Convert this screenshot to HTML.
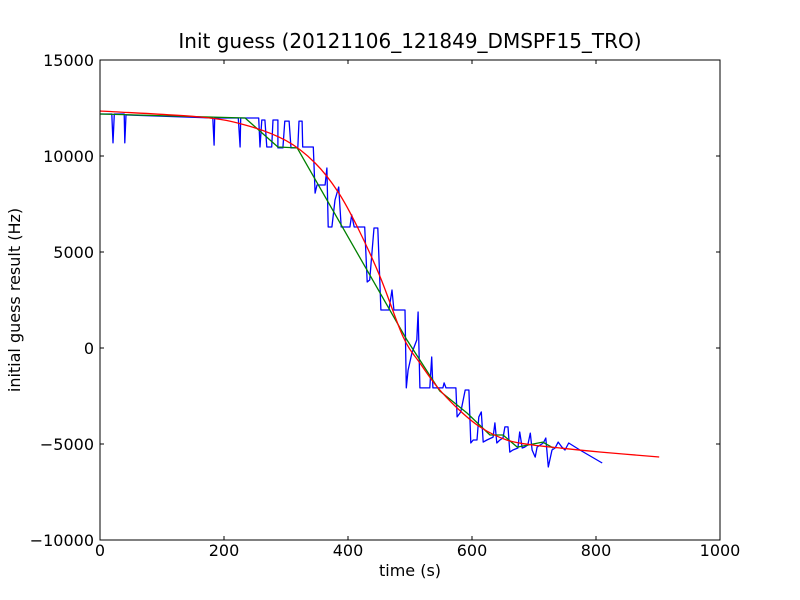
<!DOCTYPE html>
<html><head><meta charset="utf-8"><style>
body{margin:0;background:#fff;}
svg{display:block;font-family:"DejaVu Sans","Liberation Sans",sans-serif;}
</style></head><body>
<svg id="chart" width="800" height="600">
<rect x="0" y="0" width="800" height="600" fill="#fff"/>
<text x="410" y="48" font-size="20" text-anchor="middle">Init guess (20121106_121849_DMSPF15_TRO)</text>
<g id="plot"></g>
<text x="410" y="576" font-size="16" text-anchor="middle">time (s)</text>
<text transform="translate(20,300) rotate(-90)" font-size="16" text-anchor="middle">initial guess result (Hz)</text>
</svg>
<script>
const xTicks=[0,200,400,600,800,1000];
const yTicks=[15000,10000,5000,0,-5000,-10000];
const yTickLabels=["15000","10000","5000","0","\u22125000","\u221210000"];
const blueT=[2,19,21,23,39,40,42,182,184,185,223,226,227,256,258,261,266,269,277,279,287,287,295,298,305,308,319,321,326,327,344,347,350,363,366,368,374,379,385,389,403,406,410,427,431,435,442,448,453,466,471,474,492,494,497,503,511,513,516,532,535,537,553,555,558,574,576,582,589,595,598,602,608,611,615,618,624,634,637,640,645,650,653,658,661,666,674,677,681,685,690,694,697,702,705,710,715,719,723,729,734,739,745,750,756,774,810];
const blueV=[12190,12190,10680,12190,12190,10680,12140,11980,10570,11980,11980,10470,11980,11980,10470,11875,11875,10470,10470,11875,11875,10420,10420,11820,11820,10420,10420,11820,11820,10470,10470,8070,8490,8490,9375,6300,6300,7710,8385,6300,6300,6930,6300,6300,3440,3540,6250,6250,1980,1980,3020,1980,1980,-2080,-1150,-260,420,1875,-2080,-2080,-470,-2080,-2080,-1820,-2080,-2080,-3590,-3330,-2190,-2190,-4950,-4790,-4790,-3590,-3330,-4900,-4790,-4640,-3900,-4950,-4790,-4690,-4110,-4110,-5420,-5310,-5210,-4375,-5210,-5160,-5050,-4430,-5310,-5680,-5160,-5050,-4950,-4690,-6200,-5310,-5210,-4900,-5160,-5310,-4950,-5310,-5990];
const greenT=[0,234,287,318,495,548,592,629,650,673,714,731];
const greenV=[12190,11980,10470,10420,420,-2240,-3385,-4530,-4530,-5160,-4900,-5210];
const redT=[0,161,234,300,347,384,416,452,489,516,544,576,613,656,698,742,806,902];
const redV=[12344,12031,11615,10800,9635,8125,6250,3698,573,-781,-2031,-3125,-4114,-4792,-5052,-5208,-5417,-5677];
const L=100,R=720,T=60,B=540;
function sx(t){return L+(t-0)/(1000-0)*(R-L);}
function sy(v){return B-(v-(-10000))/(15000-(-10000))*(B-T);}
const NS="http://www.w3.org/2000/svg";
const g=document.getElementById('plot');
function mk(tag,attrs){const e=document.createElementNS(NS,tag);for(const k in attrs)e.setAttribute(k,attrs[k]);g.appendChild(e);return e;}
function pathD(ts,vs){
  const n=Math.min(ts.length,vs.length);let d='';
  for(let i=0;i<n;i++)d+=(i?'L':'M')+sx(ts[i]).toFixed(1)+','+sy(vs[i]).toFixed(1);
  return d;
}
function smoothD(ts,vs){
  const n=Math.min(ts.length,vs.length);
  const P=[];for(let i=0;i<n;i++)P.push([sx(ts[i]),sy(vs[i])]);
  let d='M'+P[0][0].toFixed(1)+','+P[0][1].toFixed(1);
  for(let i=0;i<n-1;i++){
    const p0=P[Math.max(i-1,0)],p1=P[i],p2=P[i+1],p3=P[Math.min(i+2,n-1)];
    const c1=[p1[0]+(p2[0]-p0[0])/6,p1[1]+(p2[1]-p0[1])/6];
    const c2=[p2[0]-(p3[0]-p1[0])/6,p2[1]-(p3[1]-p1[1])/6];
    d+='C'+c1[0].toFixed(1)+','+c1[1].toFixed(1)+' '+c2[0].toFixed(1)+','+c2[1].toFixed(1)+' '+p2[0].toFixed(1)+','+p2[1].toFixed(1);
  }
  return d;
}
function addLine(d,color,name){
  const p=mk('path',{d:d,fill:'none',stroke:color,'stroke-width':1.3,'stroke-linejoin':'round'});
  
  
}
addLine(pathD(blueT,blueV),'#0000ff','series-blue-raw');
addLine(pathD(greenT,greenV),'#008000','series-green-fit');
addLine(smoothD(redT,redV),'#ff0000','series-red-fit');
const frame=mk('rect',{x:L,y:T,width:R-L,height:B-T,fill:'none',stroke:'#000','stroke-width':1});


xTicks.forEach(t=>{
  const x=sx(t);
  mk('line',{x1:x,y1:B,x2:x,y2:B-4,stroke:'#000'});
  mk('line',{x1:x,y1:T,x2:x,y2:T+4,stroke:'#000'});
  const tx=mk('text',{x:x,y:B+16,'font-size':16,'text-anchor':'middle'});
  tx.textContent=String(t);
  
  
});
yTicks.forEach((v,i)=>{
  const y=sy(v);
  mk('line',{x1:L,y1:y,x2:L+4,y2:y,stroke:'#000'});
  mk('line',{x1:R,y1:y,x2:R-4,y2:y,stroke:'#000'});
  const tx=mk('text',{x:L-6,y:y+6,'font-size':16,'text-anchor':'end'});
  tx.textContent=yTickLabels[i];
  
  
});
</script>
</body></html>
